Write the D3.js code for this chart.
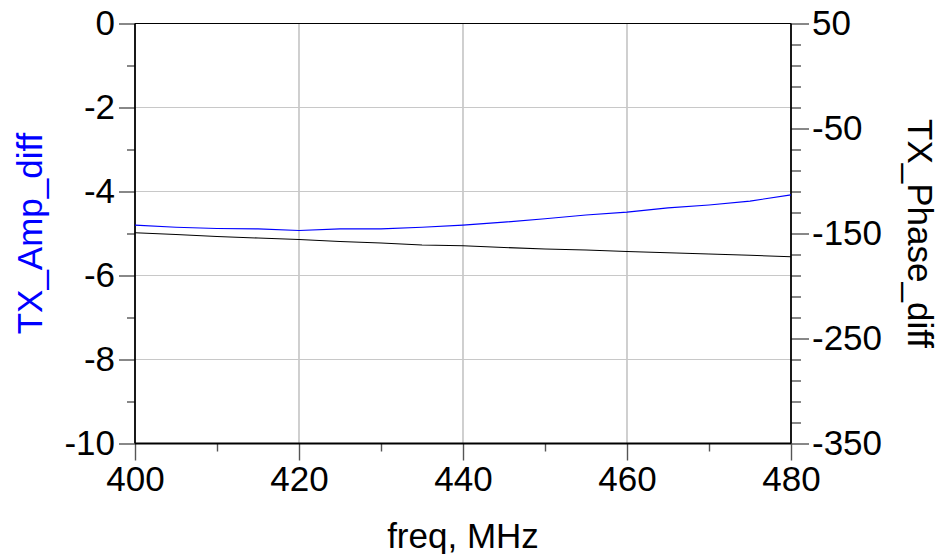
<!DOCTYPE html>
<html>
<head>
<meta charset="utf-8">
<script src="https://cdn.jsdelivr.net/npm/d3@7"></script>
<style>
  body { margin: 0; background: #fff; }
  svg { display: block; }
  text { font-family: "Liberation Sans", Arial, sans-serif; }
</style>
</head>
<body>
<svg id="chart" width="940" height="554"></svg>
<script>
// ---- data ----
const freq = [400, 405, 410, 415, 420, 425, 430, 435, 440, 445, 450, 455, 460, 465, 470, 475, 480];
const ampDiff = [-4.80, -4.85, -4.88, -4.89, -4.93, -4.89, -4.89, -4.85, -4.80, -4.73, -4.65, -4.56, -4.49, -4.39, -4.32, -4.23, -4.08];
const phaseDiff = [-149.3, -151.0, -152.9, -154.3, -155.7, -157.6, -159.0, -161.0, -161.7, -163.3, -164.8, -165.7, -167.1, -168.4, -169.5, -170.7, -172.2];
const xTicks = [400, 420, 440, 460, 480];
const xMinor = [410, 430, 450, 470];
const yLeftTicks = [0, -2, -4, -6, -8, -10];
const yLeftMinor = [-1, -3, -5, -7, -9];
const yRightTicks = [50, -50, -150, -250, -350];
const yRightMinor = [30, 10, -10, -30, -70, -90, -110, -130, -170, -190, -210, -230, -270, -290, -310, -330];
const gridX = [420, 440, 460];
const gridY = [-2, -4, -6, -8];

// ---- layout ----
const L = 135, R = 791, T = 23.5, B = 443.5;
const svg = d3.select("#chart");
const x = d3.scaleLinear().domain([400, 480]).range([L, R]);
const yL = d3.scaleLinear().domain([-10, 0]).range([B, T]);
const yR = d3.scaleLinear().domain([-350, 50]).range([B, T]);
const FS = 35;
const fmt = d => String(d);

// grid
svg.append("g").selectAll("line").data(gridX).join("line")
  .attr("x1", d => x(d)).attr("x2", d => x(d)).attr("y1", T).attr("y2", B)
  .attr("stroke", "#c4c4c4").attr("stroke-width", 1.6);
svg.append("g").selectAll("line").data(gridY).join("line")
  .attr("x1", L).attr("x2", R).attr("y1", d => yL(d)).attr("y2", d => yL(d))
  .attr("stroke", "#c8c8c8").attr("stroke-width", 1.2);

function styleAxis(g) {
  g.select(".domain").remove();
  g.selectAll(".tick line").attr("stroke", "#555").attr("stroke-width", 1.4);
  g.selectAll(".tick text").attr("font-size", FS).attr("fill", "#000")
    .attr("font-family", "'Liberation Sans', Arial, sans-serif");
}

// left axis
svg.append("g").attr("transform", `translate(${L},0)`)
  .call(d3.axisLeft(yL).tickValues(yLeftTicks).tickSize(16).tickPadding(4).tickFormat(fmt))
  .call(styleAxis);
svg.append("g").attr("transform", `translate(${L},0)`)
  .call(d3.axisLeft(yL).tickValues(yLeftMinor).tickSize(8).tickFormat(""))
  .call(styleAxis);

// right axis
svg.append("g").attr("transform", `translate(${R},0)`)
  .call(d3.axisRight(yR).tickValues(yRightTicks).tickSize(18).tickPadding(3).tickFormat(fmt))
  .call(styleAxis);
svg.append("g").attr("transform", `translate(${R},0)`)
  .call(d3.axisRight(yR).tickValues(yRightMinor).tickSize(10).tickFormat(""))
  .call(styleAxis);

// bottom axis
svg.append("g").attr("transform", `translate(0,${B})`)
  .call(d3.axisBottom(x).tickValues(xTicks).tickSize(17).tickPadding(6).tickFormat(fmt))
  .call(styleAxis);
svg.append("g").attr("transform", `translate(0,${B})`)
  .call(d3.axisBottom(x).tickValues(xMinor).tickSize(8).tickFormat(""))
  .call(styleAxis);

// frame
svg.append("line").attr("x1", L).attr("x2", L).attr("y1", T).attr("y2", B).attr("stroke", "#000").attr("stroke-width", 1.8);
svg.append("line").attr("x1", R).attr("x2", R).attr("y1", T).attr("y2", B).attr("stroke", "#000").attr("stroke-width", 1.8);
svg.append("line").attr("x1", L).attr("x2", R).attr("y1", T).attr("y2", T).attr("stroke", "#000").attr("stroke-width", 1.2);
svg.append("line").attr("x1", L).attr("x2", R).attr("y1", B).attr("y2", B).attr("stroke", "#000").attr("stroke-width", 1.8);

// series
const idx = d3.range(freq.length);
svg.append("path").datum(idx)
  .attr("fill", "none").attr("stroke", "#0000ff").attr("stroke-width", 1.1)
  .attr("d", d3.line().x(i => x(freq[i])).y(i => yL(ampDiff[i])));
svg.append("path").datum(idx)
  .attr("fill", "none").attr("stroke", "#000").attr("stroke-width", 1.1)
  .attr("d", d3.line().x(i => x(freq[i])).y(i => yR(phaseDiff[i])));

// titles
svg.append("text").attr("transform", `translate(42,${(T + B) / 2}) rotate(-90)`)
  .attr("text-anchor", "middle").attr("font-size", FS).attr("fill", "#0000ff").text("TX_Amp_diff");
svg.append("text").attr("transform", `translate(908,${(T + B) / 2}) rotate(90)`)
  .attr("text-anchor", "middle").attr("font-size", FS).attr("fill", "#000").text("TX_Phase_diff");
svg.append("text").attr("x", (L + R) / 2).attr("y", 548)
  .attr("text-anchor", "middle").attr("font-size", FS).attr("fill", "#000").text("freq, MHz");
</script>
</body>
</html>
